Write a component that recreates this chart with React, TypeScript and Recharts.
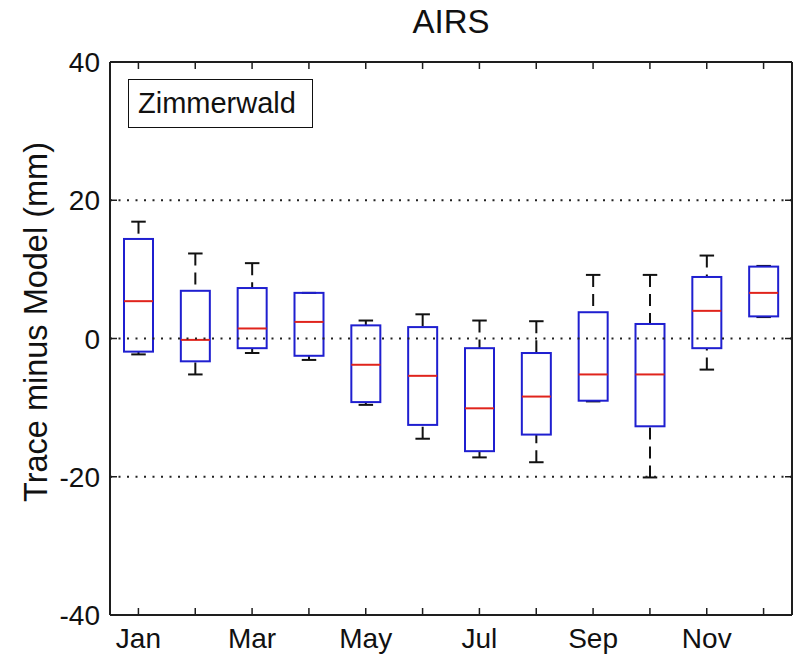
import { Bar, ComposedChart, ReferenceLine, XAxis, YAxis } from "recharts";

// Monatswerte der Boxplots (mm)
const months = ["Jan", "Feb", "Mar", "Apr", "May", "Jun", "Jul", "Aug", "Sep", "Oct", "Nov", "Dec"];
const upperWhisker = [16.9, 12.3, 10.9, 6.6, 2.6, 3.5, 2.6, 2.5, 9.2, 9.2, 12.0, 10.5];
const upperQuartile = [14.4, 6.9, 7.3, 6.6, 1.9, 1.65, -1.4, -2.1, 3.8, 2.1, 8.9, 10.4];
const medians = [5.4, -0.2, 1.45, 2.4, -3.8, -5.4, -10.1, -8.4, -5.2, -5.2, 4.0, 6.6];
const lowerQuartile = [-1.9, -3.3, -1.4, -2.5, -9.2, -12.5, -16.3, -13.9, -9.0, -12.7, -1.4, 3.2];
const lowerWhisker = [-2.3, -5.2, -2.1, -3.1, -9.6, -14.5, -17.2, -17.9, -9.1, -20.1, -4.5, 3.1];
const yTicks = [-40, -20, 0, 20, 40];
const gridLines = [-20, 0, 20];

const FONT = "'Liberation Sans', Arial, Helvetica, sans-serif";
const AXIS = "#1e1e1e";
const BLUE = "#1f1fd0";
const RED = "#e0241c";
const TICK = 7;

const rows = months.map((m, i) => ({
  month: m,
  lo: lowerWhisker[i],
  q1: lowerQuartile[i],
  med: medians[i],
  q3: upperQuartile[i],
  hi: upperWhisker[i],
}));

// Box + Whisker aus der Geometrie des Range-Bars (q1..q3) abgeleitet
function BoxShape(props: any) {
  const { x, y, width, height, payload } = props;
  if (x == null || y == null || !payload) return null;
  const top = Math.min(y, y + height);
  const h = Math.abs(height);
  const k = h / (payload.q3 - payload.q1);
  const py = (v: number) => top + (payload.q3 - v) * k;
  const cx = x + width / 2;
  const cap = width / 4;
  return (
    <g>
      <line x1={cx} x2={cx} y1={py(payload.hi)} y2={py(payload.q3)} stroke="#111" strokeWidth={2} strokeDasharray="12 7" />
      <line x1={cx} x2={cx} y1={py(payload.lo)} y2={py(payload.q1)} stroke="#111" strokeWidth={2} strokeDasharray="12 7" />
      <line x1={cx - cap} x2={cx + cap} y1={py(payload.hi)} y2={py(payload.hi)} stroke="#111" strokeWidth={2} />
      <line x1={cx - cap} x2={cx + cap} y1={py(payload.lo)} y2={py(payload.lo)} stroke="#111" strokeWidth={2} />
      <rect x={x} y={top} width={width} height={h} fill="none" stroke={BLUE} strokeWidth={2} />
      <line x1={x} x2={x + width} y1={py(payload.med)} y2={py(payload.med)} stroke={RED} strokeWidth={2} />
    </g>
  );
}

function BottomTick({ x, y, payload, index }: any) {
  return (
    <g>
      <line x1={x} x2={x} y1={y} y2={y - TICK} stroke={AXIS} strokeWidth={1.5} />
      {index % 2 === 0 && (
        <text x={x} y={y + 33} textAnchor="middle" fill="#111" fontSize={28} fontFamily={FONT}>
          {payload.value}
        </text>
      )}
    </g>
  );
}

function TopTick({ x, y }: any) {
  return <line x1={x} x2={x} y1={y} y2={y + TICK} stroke={AXIS} strokeWidth={1.5} />;
}

function LeftTick({ x, y, payload }: any) {
  return (
    <g>
      <line x1={x} x2={x + TICK} y1={y} y2={y} stroke={AXIS} strokeWidth={1.5} />
      <text x={x - 10} y={y} dy={10} textAnchor="end" fill="#111" fontSize={28} fontFamily={FONT}>
        {payload.value}
      </text>
    </g>
  );
}

function RightTick({ x, y }: any) {
  return <line x1={x} x2={x - TICK} y1={y} y2={y} stroke={AXIS} strokeWidth={1.5} />;
}

export default function App() {
  return (
    <div style={{ position: "absolute", left: 0, top: 0, width: 794, height: 657, background: "#fff", fontFamily: FONT }}>
      <ComposedChart
        width={794}
        height={657}
        data={rows}
        margin={{ top: 61, right: 1, bottom: 2, left: 40 }}
        accessibilityLayer={false}
      >
        <XAxis
          dataKey="month"
          interval={0}
          tickSize={0}
          tickMargin={0}
          tickLine={false}
          height={40}
          axisLine={{ stroke: AXIS, strokeWidth: 2 }}
          tick={<BottomTick />}
        />
        <XAxis
          xAxisId="top"
          dataKey="month"
          orientation="top"
          interval={0}
          tickSize={0}
          tickMargin={0}
          tickLine={false}
          height={1}
          axisLine={{ stroke: AXIS, strokeWidth: 2 }}
          tick={<TopTick />}
        />
        <YAxis
          type="number"
          domain={[-40, 40]}
          ticks={yTicks}
          interval={0}
          allowDataOverflow
          tickSize={0}
          tickMargin={0}
          tickLine={false}
          width={70}
          axisLine={{ stroke: AXIS, strokeWidth: 2 }}
          tick={<LeftTick />}
        />
        <YAxis
          yAxisId="right"
          orientation="right"
          type="number"
          domain={[-40, 40]}
          ticks={yTicks}
          interval={0}
          allowDataOverflow
          tickSize={0}
          tickMargin={0}
          tickLine={false}
          width={1}
          axisLine={{ stroke: AXIS, strokeWidth: 2 }}
          tick={<RightTick />}
        />
        {gridLines.map((v) => (
          <ReferenceLine key={v} y={v} stroke="#222" strokeWidth={2} strokeDasharray="2 6.5" />
        ))}
        <Bar
          dataKey={(d: any) => [d.q1, d.q3]}
          barSize={29}
          fill="none"
          isAnimationActive={false}
          shape={<BoxShape />}
        />
      </ComposedChart>
      <div style={{ position: "absolute", left: 0, width: 902, top: 3, textAlign: "center", fontSize: 33, color: "#111" }}>
        AIRS
      </div>
      <div
        style={{
          position: "absolute",
          left: 36,
          top: 322,
          transform: "translate(-50%, -50%) rotate(-90deg)",
          whiteSpace: "nowrap",
          fontSize: 32.5,
          color: "#111",
        }}
      >
        Trace minus Model (mm)
      </div>
      <div
        style={{
          position: "absolute",
          left: 128,
          top: 79,
          width: 185,
          height: 49,
          border: "1.5px solid #111",
          fontSize: 29,
          lineHeight: "46px",
          paddingLeft: 9,
          boxSizing: "border-box",
          color: "#111",
        }}
      >
        Zimmerwald
      </div>
    </div>
  );
}
